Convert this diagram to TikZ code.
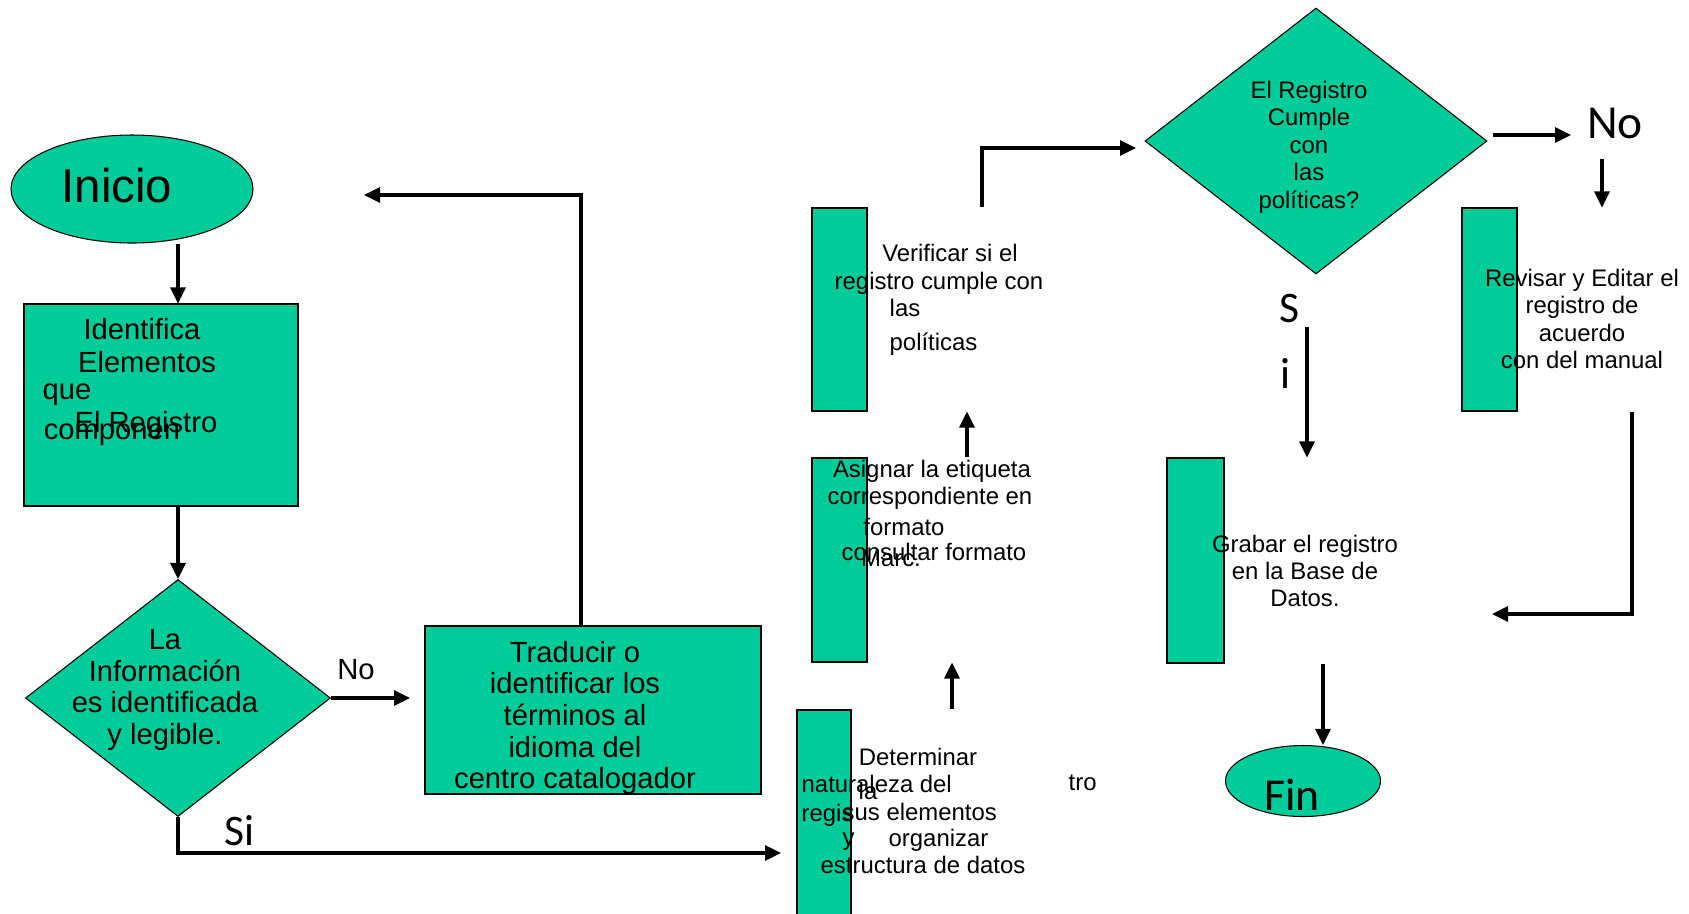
\documentclass[tikz,border=0pt]{standalone}
\usepackage{fontspec}
\setmainfont{Liberation Sans}
\newfontfamily\calibri{Carlito}
\usetikzlibrary{shapes.geometric,arrows.meta}
\definecolor{verde}{RGB}{0,204,153}

\tikzset{
	caja/.style={draw, line width=0.3pt, fill=verde, inner sep=0pt},
	texto/.style={font=\fontsize{6.8}{7.8}\selectfont, align=center, inner sep=0pt},
	textogr/.style={font=\fontsize{8.3}{9}\selectfont, align=center, inner sep=0pt},
	etiq/.style={font=\calibri\fontsize{12.4}{14}\selectfont, inner sep=0pt},
	flecha/.style={-{Triangle[length=1.6mm,width=1.5mm]}, line width=0.9pt},
}

\begin{document}
\begin{tikzpicture}[x=0.1mm,y=-0.1mm]
	\useasboundingbox (0,0) rectangle (1689,913);
	% columna izquierda
	\node[caja, ellipse, minimum width=24.2mm, minimum height=10.8mm] (inicio) at (132,189) {};
	\node[caja, minimum width=27.4mm, minimum height=20.2mm] (ident) at (161,405) {};
	\node[caja, diamond, minimum width=30.5mm, minimum height=23.7mm] (dec1) at (178,698) {};
	\node[caja, minimum width=33.6mm, minimum height=16.8mm] (trad) at (593,710) {};
	% cajas angostas
	\node[caja, minimum width=5.4mm, minimum height=20.6mm] (det) at (824,813) {};
	\node[caja, minimum width=5.5mm, minimum height=20.4mm] (asig) at (839.5,560) {};
	\node[caja, minimum width=5.5mm, minimum height=20.3mm] (verif) at (839.5,309.5) {};
	\node[caja, diamond, minimum width=34.2mm, minimum height=26.6mm] (dec2) at (1316,141) {};
	\node[caja, minimum width=5.5mm, minimum height=20.3mm] (revis) at (1489.5,309.5) {};
	\node[caja, minimum width=5.7mm, minimum height=20.5mm] (grab) at (1195.5,560.5) {};
	\node[caja, ellipse, minimum width=15.5mm, minimum height=7.1mm] (fin) at (1303,781) {};

	% textos
	\node[font=\fontsize{13.5}{15}\selectfont, inner sep=0pt] (t-inicio) at (117,186) {Inicio};
	\node[textogr] (t-ident1) at (142,329) {Identifica};
	\node[textogr] (t-ident2) at (147,362) {Elementos};
	\node[textogr] (t-ident3) at (67,395) {que};
	\node[textogr] (t-ident4) at (146,425) {El Registro};
	\node[textogr] (t-ident5) at (112,435) {componen};
	\node[textogr] (t-dec1) at (165,690) {La\\Información\\es identificada\\y legible.};
	\node[textogr] (t-trad) at (575,718) {Traducir o\\identificar los\\términos al\\idioma del\\centro catalogador};
	\node[textogr] (t-no1) at (356,670) {No};
	\node[etiq] (t-si1) at (240,831) {Si};

	\node[texto] (t-verif1) at (950,253) {Verificar si el};
	\node[texto] (t-verif2) at (939,283) {registro cumple con};
	\node[texto, anchor=west] (t-verif3) at (889,308) {las};
	\node[texto, anchor=west] (t-verif4) at (889,344) {políticas};

	\node[texto] (t-asig1) at (932,471) {Asignar la etiqueta};
	\node[texto] (t-asig2) at (930,498) {correspondiente en};
	\node[texto] (t-asig3) at (904,527) {formato};
	\node[texto] (t-asig4) at (934,552) {consultar formato};
	\node[texto] (t-asig5) at (891,558) {Marc.};

	\node[texto] (t-det1) at (918,757) {Determinar};
	\node[texto, anchor=west] (t-det2) at (801,784) {naturaleza del};
	\node[texto] (t-det3) at (868,791) {la};
	\node[texto, anchor=west] (t-det4) at (1068,783) {tro};
	\node[texto, anchor=west] (t-det5) at (801,815) {regis};
	\node[texto, anchor=west] (t-det6) at (842,812) {sus elementos};
	\node[texto, anchor=west] (t-det7) at (842,842) {y};
	\node[texto, anchor=west] (t-det8) at (888,840) {organizar};
	\node[texto, anchor=west] (t-det9) at (820,865) {estructura de datos};

	\node[texto] (t-dec2) at (1309,147) {El Registro\\Cumple\\con\\las\\políticas?};
	\node[texto] (t-revis) at (1582,319) {Revisar y Editar el\\registro de\\acuerdo\\con del manual};
	\node[texto] (t-grab) at (1305,571) {Grabar el registro\\en la Base de\\Datos.};
	\node[etiq, font=\calibri\fontsize{13.5}{15}\selectfont] (t-no2) at (1615,123) {No};
	\node[etiq] (t-s) at (1290,308) {S};
	\node[etiq] (t-i) at (1285,373) {i};
	\node[etiq, font=\calibri\fontsize{13}{15}\selectfont] (t-fin) at (1292,795) {Fin};

	% puntos libres
	\coordinate (no1) at (410,698);
	\coordinate (si1) at (781,853);
	\coordinate (vuelta) at (581,195);
	\coordinate (vuelta-fin) at (364,195);
	\coordinate (c-asig) at (952,686);
	\coordinate (c-verif) at (967,430);
	\coordinate (c-sube) at (982,148);
	\coordinate (c-dec2) at (1136,148);
	\coordinate (no2) at (1571,135);
	\coordinate (c-baja) at (1602,159);
	\coordinate (c-regresa) at (1632,614);
	\coordinate (c-grab) at (1492,614);
	\coordinate (c-si2) at (1307,327);
	\coordinate (c-fin) at (1323,700);

	% flechas
	\draw[flecha] (dec1.north |- inicio.south) -- (dec1.north |- ident.north);
	\draw[flecha] (dec1.north |- ident.south) -- (dec1.north);
	\draw[flecha] (dec1.east) -- (no1);
	\draw[flecha] (dec1.south) -- (dec1.south |- si1) -- (si1);
	\draw[flecha] (trad.north -| vuelta) -- (vuelta) -- (vuelta-fin);
	\draw[flecha] (det.north -| c-asig) -- (asig.south -| c-asig);
	\draw[flecha] (asig.north -| c-verif) -- (verif.south -| c-verif);
	\draw[flecha] (verif.north -| c-sube) -- (c-sube) -- (c-dec2);
	\draw[flecha] ([xshift=0.5mm]no2 -| dec2.east) -- (no2);
	\draw[flecha] (c-baja) -- (c-baja |- revis.north);
	\draw[flecha] (revis.south -| c-regresa) -- (c-regresa) -- (c-grab);
	\draw[flecha] (c-si2) -- (c-si2 |- grab.north);
	\draw[flecha] (grab.south -| c-fin) -- (c-fin |- fin.north);
\end{tikzpicture}
\end{document}
